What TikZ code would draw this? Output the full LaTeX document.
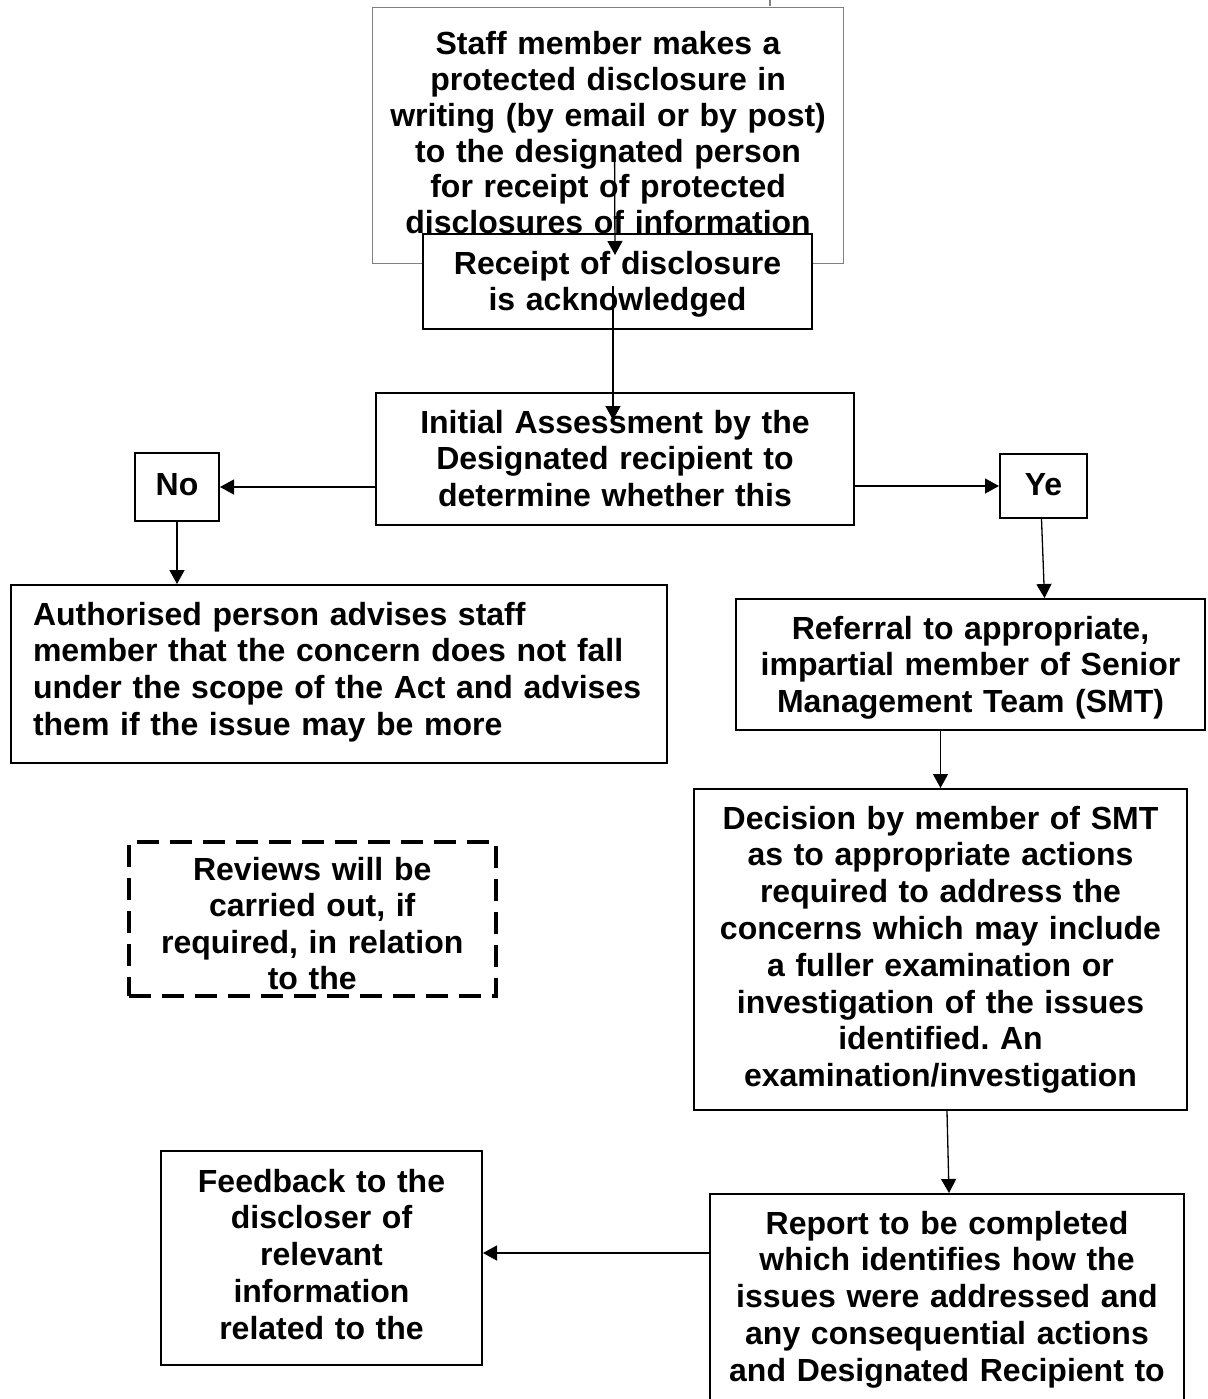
\documentclass[tikz,border=0pt]{standalone}
\usepackage{fontspec}
\setmainfont{Liberation Sans}
\usetikzlibrary{arrows.meta,calc}
\frenchspacing
\tikzset{
  flowbox/.style={draw,line width=1pt,fill=white,inner sep=0pt,anchor=north west,align=center,text height=20pt},
  dashbox/.style={flowbox,line width=1.75pt,dash pattern=on 11pt off 5.5pt},
  arr/.style={-{Triangle[length=7pt,width=7.5pt]},line width=0.65pt}
}
\begin{document}
\begin{tikzpicture}[x=0.5pt,y=-0.5pt,font=\fontsize{16}{18.4}\selectfont\bfseries]
\useasboundingbox (0,0) rectangle (1208,1399);
\node[flowbox,draw=gray,line width=0.6pt,text width=235.5pt,text height=23.5pt,text depth=104.5pt,font=\fontsize{16}{17.9}\selectfont\bfseries] (disclose) at (372,7)
  {Staff member makes a\\protected disclosure in\\writing (by email or by post)\\to the designated person\\for receipt of protected\\disclosures of information};
\draw[gray,line width=0.6pt] (770,0) -- (770,6);
\node[flowbox,text width=194.5pt,text depth=27.5pt] (receipt) at (422,233) {Receipt of disclosure\\is acknowledged};
\node[flowbox,text width=239pt,text depth=46pt] (assess) at (375,392) {Initial Assessment by the\\Designated recipient to\\determine whether this};
\node[flowbox,text width=42pt,text height=21pt,text depth=13pt] (no) at (134,452) {No};
\node[flowbox,text width=43.5pt,text height=20.5pt,text depth=11.5pt] (ye) at (999,453) {Ye};
\node[flowbox,align=left,inner xsep=11pt,text width=306pt,text depth=69pt] (advise) at (10,584)
  {Authorised person advises staff\\member that the concern does not fall\\under the scope of the Act and advises\\them if the issue may be more};
\node[flowbox,text width=234.5pt,text depth=45.5pt] (referral) at (735,598) {Referral to appropriate,\\impartial member of Senior\\Management Team (SMT)};
\node[flowbox,text width=246.5pt,text depth=140.5pt] (decide) at (693,788)
  {Decision by member of SMT\\as to appropriate actions\\required to address the\\concerns which may include\\a fuller examination or\\investigation of the issues\\identified. An\\examination/investigation};
\node[dashbox,text width=183.5pt,text height=19.5pt,text depth=57.5pt,font=\fontsize{16}{18.1}\selectfont\bfseries] (review) at (127,840) {Reviews will be\\carried out, if\\required, in relation\\to the};
\node[flowbox,text width=160.5pt,text height=20.5pt,text depth=86.5pt] (feedback) at (160,1150) {Feedback to the\\discloser of\\relevant\\information\\related to the};
\node[flowbox,text width=237pt,text depth=95pt] (report) at (709,1193)
  {Report to be completed\\which identifies how the\\issues were addressed and\\any consequential actions\\and Designated Recipient to};
\draw[arr] ($(disclose.center)+(6.5,22)$) -- ($(receipt.north)+(-2.5,22)$);
\draw[arr] ($(receipt.center)+(-4.5,4)$) -- ($(assess.north)+(-2,28)$);
\draw[arr] (assess.west |- no.east) -- (no.east);
\draw[arr] (assess.east |- ye.west) -- (ye.west);
\draw[arr] (no.south) -- (no.south |- advise.north);
\draw[arr] ($(ye.south)+(-2,0)$) -- ($(ye.south |- referral.north)+(1,0)$);
\draw[arr] (decide.north |- referral.south) -- (decide.north);
\draw[arr] ($(decide.south)+(6.5,0)$) -- ($(report.north)+(2,0)$);
\draw[arr] ($(report.north west)+(0,60)$) coordinate (rtap) -- (rtap -| feedback.east);
\end{tikzpicture}
\end{document}
